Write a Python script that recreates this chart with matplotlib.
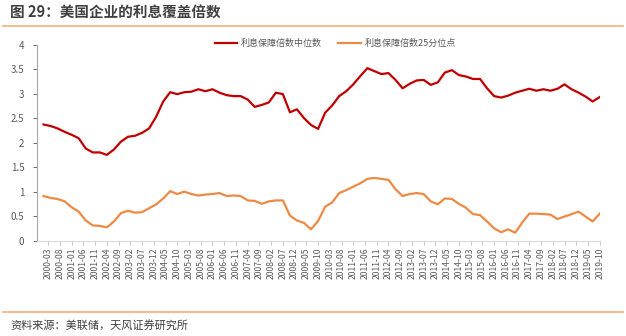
# 美国企业的利息覆盖倍数
import numpy as np
import pandas as pd
import matplotlib
matplotlib.use("Agg")
import matplotlib.pyplot as plt
from matplotlib.lines import Line2D

plt.rcParams['font.family'] = ['Noto Sans CJK SC', 'DejaVu Sans']

# 季度数据 2000-03 ~ 2019-12
quarters = pd.period_range("2000-03", "2019-12", freq="3M")
median_cov = [2.37, 2.34, 2.29, 2.22, 2.16, 2.09, 1.88, 1.80, 1.80, 1.75,
              1.86, 2.02, 2.12, 2.14, 2.20, 2.29, 2.53, 2.84, 3.03, 2.99,
              3.03, 3.04, 3.09, 3.05, 3.09, 3.02, 2.97, 2.95, 2.95, 2.88,
              2.73, 2.77, 2.82, 3.02, 2.99, 2.62, 2.68, 2.50, 2.36, 2.28,
              2.61, 2.76, 2.95, 3.05, 3.19, 3.36, 3.52, 3.46, 3.40, 3.42,
              3.28, 3.11, 3.20, 3.27, 3.28, 3.18, 3.23, 3.43, 3.48, 3.38,
              3.35, 3.30, 3.30, 3.11, 2.95, 2.92, 2.96, 3.02, 3.06, 3.10,
              3.06, 3.09, 3.06, 3.10, 3.19, 3.09, 3.02, 2.94, 2.84, 2.93]
p25_cov = [0.91, 0.87, 0.85, 0.80, 0.68, 0.59, 0.41, 0.31, 0.30, 0.27,
           0.39, 0.56, 0.61, 0.57, 0.58, 0.66, 0.74, 0.86, 1.01, 0.95,
           1.00, 0.95, 0.92, 0.94, 0.95, 0.97, 0.91, 0.92, 0.91, 0.82,
           0.81, 0.75, 0.80, 0.82, 0.82, 0.51, 0.41, 0.36, 0.23, 0.40,
           0.69, 0.78, 0.97, 1.03, 1.10, 1.17, 1.26, 1.28, 1.26, 1.24,
           1.05, 0.91, 0.95, 0.97, 0.95, 0.80, 0.74, 0.86, 0.85, 0.75,
           0.67, 0.54, 0.52, 0.39, 0.25, 0.17, 0.23, 0.16, 0.37, 0.55,
           0.55, 0.54, 0.53, 0.44, 0.49, 0.54, 0.59, 0.49, 0.39, 0.55]
# 横轴标签：每5个月一个
tick_months = pd.period_range("2000-03", "2019-10", freq="5M")

start = pd.Period("2000-03", freq="M")
x = np.array([(q.asfreq("M") - start).n for q in quarters])
xt = np.array([(m.asfreq("M") - start).n for m in tick_months])
xl = [m.strftime("%Y-%m") for m in tick_months]

red = "#C00000"
orange = "#ED8A45"
grey = "#595959"

fig = plt.figure(figsize=(6.26, 3.36), dpi=100)
ax = fig.add_axes([0.059, 0.284, 0.899, 0.583])
ax.plot(x, median_cov, color=red, lw=1.6, label="利息保障倍数中位数")
ax.plot(x, p25_cov, color=orange, lw=1.6, label="利息保障倍数25分位点")

ax.set_xlim(-0.8, 239)
ax.set_ylim(0, 4)
ax.set_yticks(np.arange(0, 4.01, 0.5))
ax.set_yticklabels(["0", "0.5", "1", "1.5", "2", "2.5", "3", "3.5", "4"])
ax.set_xticks(xt)
ax.set_xticklabels(xl, rotation=90, fontsize=6.2, color=grey)
ax.tick_params(axis="y", labelsize=7, colors=grey, length=3, width=0.6, pad=6)
ax.tick_params(axis="x", length=3, width=0.6, color="#BFBFBF", pad=2)
for s in ["top", "right"]:
    ax.spines[s].set_visible(False)
ax.spines["left"].set_color("#A6A6A6")
ax.spines["bottom"].set_color("#D9D9D9")
ax.spines["left"].set_linewidth(0.8)
ax.spines["bottom"].set_linewidth(0.8)

ax.legend(loc="upper center", bbox_to_anchor=(0.53, 1.07), ncol=2, frameon=False,
          fontsize=6.5, labelcolor=grey, handlelength=2.5, handletextpad=0.4,
          columnspacing=1.8)

# 标题、来源及分隔线
fig.text(0.016, 0.963, "图 29：美国企业的利息覆盖倍数", fontsize=10.5, fontweight="bold",
         color="#404040", va="center")
fig.add_artist(Line2D([0.005, 0.995], [0.922, 0.922], color="#F0B27A", lw=1.2))
fig.add_artist(Line2D([0.005, 0.995], [0.07, 0.07], color="#F0B27A", lw=1.2))
fig.text(0.016, 0.032, "资料来源：美联储，天风证券研究所", fontsize=8, color="#404040",
         va="center")

fig.savefig("out.png", dpi=100)
